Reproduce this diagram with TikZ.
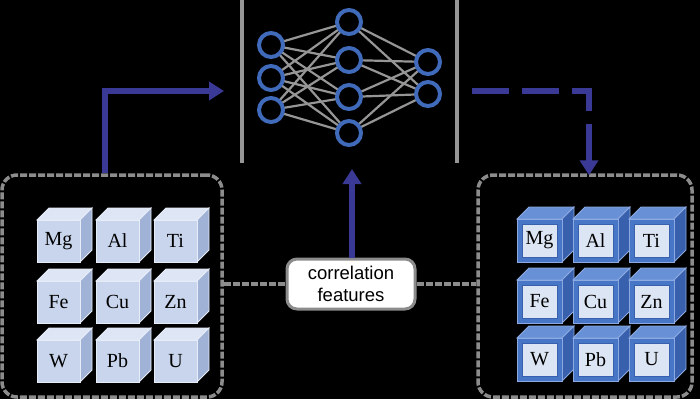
\documentclass[tikz,border=0pt]{standalone}
\usepackage{fontspec}
\setmainfont{Liberation Serif}
\newfontfamily\labelsans{Liberation Sans}
\usetikzlibrary{arrows.meta}
\pgfdeclarelayer{bglayer}
\pgfdeclarelayer{edgelayer}
\pgfsetlayers{bglayer,edgelayer,main}
\definecolor{arrowblue}{RGB}{58,58,150}
\definecolor{netblue}{RGB}{64,106,186}
\definecolor{netgrey}{RGB}{150,150,150}
\definecolor{boxgrey}{RGB}{140,140,140}
\definecolor{lfront}{RGB}{200,213,236}
\definecolor{ltop}{RGB}{222,230,245}
\definecolor{lside}{RGB}{160,178,214}
\definecolor{ledge}{RGB}{230,236,248}
\definecolor{rfront}{RGB}{72,118,198}
\definecolor{rtop}{RGB}{104,144,214}
\definecolor{rside}{RGB}{56,96,172}
\definecolor{redge}{RGB}{140,170,225}
\definecolor{rinner}{RGB}{220,229,244}
\tikzset{
  frame/.style={draw=boxgrey, line width=3.5pt, dash pattern=on 7pt off 2pt, rounded corners=15pt},
  netnode/.style={circle, draw=netblue, line width=4pt, fill=black, minimum size=24pt, inner sep=0pt},
  netedge/.style={draw=netgrey, line width=2.2pt},
  flowarrow/.style={draw=arrowblue, line width=6pt, -{Triangle[length=15pt,width=18pt]}},
  dasharrow/.style={flowarrow, dash pattern=on 37pt off 13pt},
  linkline/.style={draw=boxgrey, line width=4pt, dash pattern=on 7pt off 2pt},
  elemlabel/.style={font=\fontsize{20}{22}\selectfont, text=black, inner sep=0pt},
  corrbox/.style={draw=boxgrey, line width=3pt, fill=white, rounded corners=10pt, minimum width=128pt, minimum height=50pt, align=center, font=\labelsans\fontsize{18.5}{22}\selectfont, inner sep=0pt},
}
\begin{document}
\begin{tikzpicture}[x=1pt,y=-1pt]
\begin{pgfonlayer}{bglayer}
\fill[black] (0,0) rectangle (700,399);
\end{pgfonlayer}
\useasboundingbox (0,0) rectangle (700,399);

% frames
\node[frame, minimum width=220pt, minimum height=222pt, inner sep=0pt] (L) at (112,286) {};
\node[frame, minimum width=214pt, minimum height=222pt, inner sep=0pt] (R) at (585,286) {};

% left cubes
\foreach \lab/\cx/\cy [count=\k] in {Mg/37/220,Al/96/220,Ti/154/220,Fe/37/281,Cu/96/281,Zn/154/281,W/37/340,Pb/96/340,U/154/340}{
  \pgfmathsetmacro\w{43}\pgfmathsetmacro\h{42}\pgfmathsetmacro\d{12}
  \filldraw[fill=ltop, draw=ledge, line width=0.8pt] (\cx,\cy) -- ++(\d,-\d) -- ++(\w,0) -- ++(-\d,\d) -- cycle;
  \filldraw[fill=lside, draw=ledge, line width=0.8pt] (\cx+\w,\cy) -- ++(\d,-\d) -- ++(0,\h) -- ++(-\d,\d) -- cycle;
  \filldraw[fill=lfront, draw=ledge, line width=0.8pt] (\cx,\cy) rectangle ++(\w,\h);
  \node[elemlabel] (l\k) at (\cx+21.5,\cy+21) {\lab};
}

% right cubes
\foreach \lab/\cx/\cy [count=\k] in {Mg/517/219,Al/573/219,Ti/629/219,Fe/517/280,Cu/573/280,Zn/629/280,W/517/338,Pb/573/338,U/629/338}{
  \pgfmathsetmacro\w{45}\pgfmathsetmacro\h{43}\pgfmathsetmacro\d{12}
  \filldraw[fill=rtop, draw=redge, line width=0.8pt] (\cx,\cy) -- ++(\d,-\d) -- ++(\w,0) -- ++(-\d,\d) -- cycle;
  \filldraw[fill=rside, draw=redge, line width=0.8pt] (\cx+\w,\cy) -- ++(\d,-\d) -- ++(0,\h) -- ++(-\d,\d) -- cycle;
  \filldraw[fill=rfront, draw=redge, line width=0.8pt] (\cx,\cy) rectangle ++(\w,\h);
  \filldraw[fill=rinner, draw=rside, line width=0.6pt] (\cx+5,\cy+5) rectangle ++(\w-10,\h-10);
  \node[elemlabel] (r\k) at (\cx+22.5,\cy+21.5) {\lab};
}

% network separators
\draw[draw=netgrey, line width=3.5pt] (242,0) -- (242,163);
\draw[draw=netgrey, line width=3.5pt] (457,0) -- (457,163);

% network nodes
\node[netnode] (i1) at (271,45) {};
\node[netnode] (i2) at (271,78) {};
\node[netnode] (i3) at (271,110) {};
\node[netnode] (h1) at (349,22) {};
\node[netnode] (h2) at (349,60) {};
\node[netnode] (h3) at (349,97) {};
\node[netnode] (h4) at (349,133) {};
\node[netnode] (o1) at (428,62) {};
\node[netnode] (o2) at (428,94) {};
\begin{pgfonlayer}{edgelayer}
\foreach \a in {i1,i2,i3}{\foreach \b in {h1,h2,h3,h4}{\draw[netedge] (\a.center) -- (\b.center);}}
\foreach \a in {h1,h2,h3,h4}{\foreach \b in {o1,o2}{\draw[netedge] (\a.center) -- (\b.center);}}
\end{pgfonlayer}

% correlation box
\node[corrbox] (C) at (351,284) {correlation\\features};
\draw[linkline] (L.east |- C.west) -- (C.west);
\draw[linkline] (C.east) -- (R.west |- C.east);

% arrows
\coordinate (netin) at (224,91);
\coordinate (netup) at (352,169);
\coordinate (netout) at (472,91);
\draw[flowarrow] ([xshift=-7pt]L.north) |- (netin);
\draw[flowarrow] (C.north -| netup) -- (netup);
\draw[dasharrow] (netout) -| ([xshift=4pt,yshift=-2pt]R.north);
\end{tikzpicture}
\end{document}
